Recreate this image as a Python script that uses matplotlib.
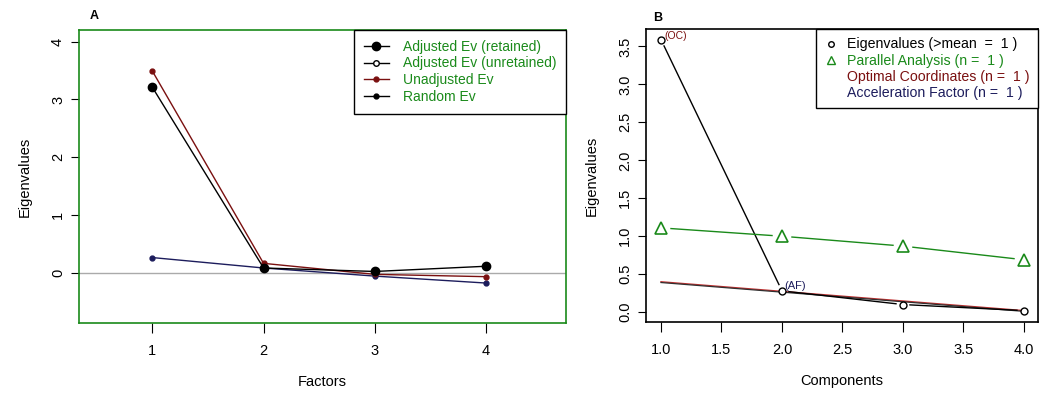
import numpy as np
import matplotlib
matplotlib.use('Agg')
from matplotlib import pyplot as plt
from matplotlib.lines import Line2D

plt.rcParams['font.family'] = ['Liberation Sans', 'DejaVu Sans']
plt.rcParams['font.size'] = 10.5

# panel A: paran
factores = [1, 2, 3, 4]
ajustado = [3.21, 0.09, 0.03, 0.12]
no_ajustado = [3.49, 0.17, -0.02, -0.06]
aleatorio = [0.27, 0.09, -0.05, -0.17]

# panel B: nScree
componentes = [1, 2, 3, 4]
autovalores = [3.59, 0.28, 0.10, 0.02]
paralelo = [1.11, 1.00, 0.87, 0.69]
oc_linea = [0.40, 0.02]   # recta roja de coordenadas optimas (x=1 y x=4)
af_linea = [0.39, 0.01]

verde = '#1a8a1a'
rojo_osc = '#7a1010'
azul_osc = '#1c1c5c'

fig = plt.figure(figsize=(10.64, 3.98), dpi=100)
W, H = 1064, 398

def caja(x0, y0, x1, y1):
    return [x0 / W, 1 - y1 / H, (x1 - x0) / W, (y1 - y0) / H]

def linea_b(ax, x, y, color, gap=6, lw=1.0):
    # como type="b" de R: segmentos con hueco alrededor de los puntos
    P = ax.transData.transform(np.column_stack([x, y]))
    inv = ax.transData.inverted()
    for i in range(len(P) - 1):
        a, b = P[i], P[i + 1]
        d = b - a
        L = np.hypot(*d)
        if L <= 2 * gap:
            continue
        u = d / L
        s = inv.transform([a + u * gap, b - u * gap])
        ax.plot(s[:, 0], s[:, 1], color=color, lw=lw, zorder=2)

# ---------------- A ----------------
axA = fig.add_axes(caja(79, 30, 566, 323))
axA.set_xlim(0.34, 4.72)
axA.set_ylim(-0.86, 4.2)
axA.axhline(0, color='#aaaaaa', lw=1.0, zorder=1)
axA.plot(factores, aleatorio, color=azul_osc, lw=1.0, marker='o', ms=3.5, zorder=3)
axA.plot(factores, no_ajustado, color=rojo_osc, lw=1.0, marker='o', ms=3.5, zorder=3)
axA.plot(factores, ajustado, color='black', lw=1.0, marker='o', ms=6, zorder=4)
for s in axA.spines.values():
    s.set_color(verde)
    s.set_linewidth(1.2)
axA.set_xticks(factores)
axA.set_yticks([0, 1, 2, 3, 4])
axA.tick_params(axis='y', labelrotation=90, length=6, pad=4)
axA.tick_params(axis='x', length=7, pad=8)
for t in axA.get_yticklabels():
    t.set_va('center')
axA.set_xlabel('Factors', labelpad=12)
axA.set_ylabel('Eigenvalues', labelpad=14)
fig.text(90 / W, 1 - 16 / H, 'A', fontweight='bold', fontsize=9, va='center')

hA = [Line2D([], [], color='black', marker='o', ms=6, lw=1),
      Line2D([], [], color='black', marker='o', ms=4, mfc='white', lw=1),
      Line2D([], [], color=rojo_osc, marker='o', ms=3.5, lw=1),
      Line2D([], [], color='black', marker='o', ms=3.5, lw=1)]
legA = axA.legend(hA, ['Adjusted Ev (retained)', 'Adjusted Ev (unretained)',
                       'Unadjusted Ev', 'Random Ev'],
                  loc='upper right', bbox_to_anchor=(1.0, 1.0), borderaxespad=0,
                  fancybox=False, edgecolor='black', framealpha=1,
                  handlelength=1.8, handletextpad=1.0, labelspacing=0.2,
                  fontsize=10, borderpad=0.7)
legA.get_frame().set_linewidth(1.0)
for t in legA.get_texts():
    t.set_color(verde)

# ---------------- B ----------------
axB = fig.add_axes(caja(646, 29, 1038, 322))
axB.set_xlim(0.876, 4.116)
axB.set_ylim(-0.13, 3.73)
fig.canvas.draw()
axB.plot([componentes[0], componentes[-1]], oc_linea, color='#c03030', lw=1.0, zorder=2)
axB.plot([componentes[0], componentes[-1]], af_linea, color='#303030', lw=0.9, zorder=2)
linea_b(axB, componentes, autovalores, 'black', gap=7)
linea_b(axB, componentes, paralelo, verde, gap=10)
axB.plot(componentes, autovalores, ls='none', marker='o', ms=5, mfc='white',
         mec='black', mew=1.0, zorder=4)
axB.plot(componentes, paralelo, ls='none', marker='^', ms=8, mfc='none',
         mec=verde, mew=1.2, zorder=4)
axB.text(componentes[0] + 0.03, autovalores[0] - 0.02, '(OC)', color=rojo_osc,
         fontsize=7.5, va='bottom', ha='left')
axB.text(componentes[1] + 0.02, autovalores[1] + 0.0, '(AF)', color=azul_osc,
         fontsize=8, va='bottom', ha='left')
axB.set_xticks(np.arange(1.0, 4.01, 0.5))
axB.set_xticklabels(['%.1f' % v for v in np.arange(1.0, 4.01, 0.5)])
axB.set_yticks(np.arange(0, 3.51, 0.5))
axB.set_yticklabels(['%.1f' % v for v in np.arange(0, 3.51, 0.5)])
axB.tick_params(axis='y', labelrotation=90, length=6, pad=4)
axB.tick_params(axis='x', length=7, pad=8)
for t in axB.get_yticklabels():
    t.set_va('center')
for s in axB.spines.values():
    s.set_color('black')
    s.set_linewidth(1.2)
axB.set_xlabel('Components', labelpad=12)
axB.set_ylabel('Eigenvalues', labelpad=14)
fig.text(653 / W, 1 - 18 / H, 'B', fontweight='bold', fontsize=9, va='center')

hB = [Line2D([], [], ls='none', marker='o', ms=4, mfc='white', mec='black'),
      Line2D([], [], ls='none', marker='^', ms=6, mfc='none', mec=verde),
      Line2D([], [], ls='none'),
      Line2D([], [], ls='none')]
legB = axB.legend(hB, ['Eigenvalues (>mean  =  1 )', 'Parallel Analysis (n =  1 )',
                       'Optimal Coordinates (n =  1 )', 'Acceleration Factor (n =  1 )'],
                  loc='upper right', bbox_to_anchor=(1.0, 1.0), borderaxespad=0,
                  fancybox=False, edgecolor='black', framealpha=1,
                  handlelength=1.0, handletextpad=0.6, labelspacing=0.15,
                  fontsize=10.2, borderpad=0.6)
legB.get_frame().set_linewidth(1.0)
for t, c in zip(legB.get_texts(), ['black', verde, rojo_osc, azul_osc]):
    t.set_color(c)

fig.savefig('out.png', dpi=100)
